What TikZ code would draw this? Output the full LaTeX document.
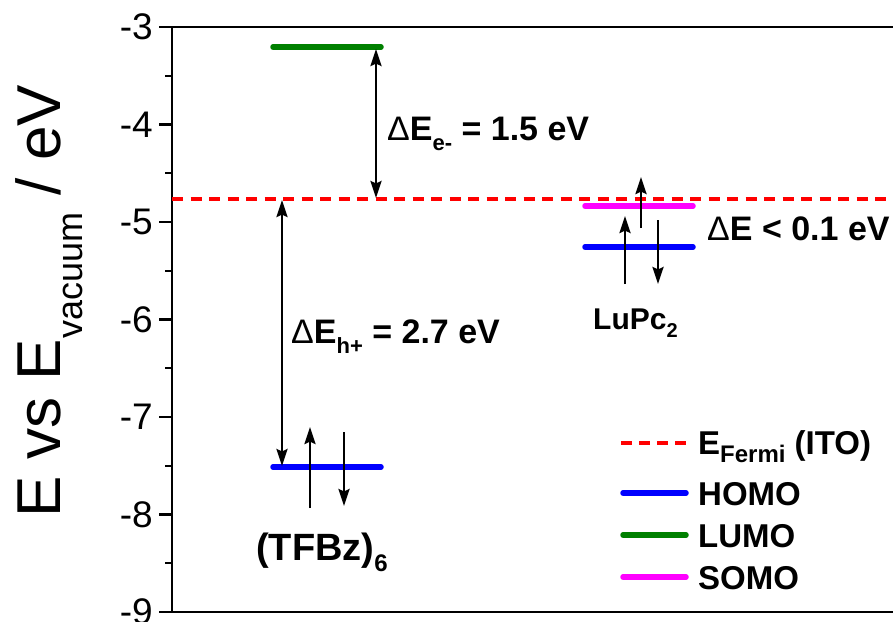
\documentclass[tikz,border=0pt]{standalone}
\usepackage{fontspec}
\setmainfont{Liberation Sans}
\usetikzlibrary{arrows.meta}
\definecolor{lumogreen}{RGB}{0,128,0}
\definecolor{homoblue}{RGB}{0,0,255}
\definecolor{somomag}{RGB}{255,0,255}
\definecolor{fermired}{RGB}{255,0,0}
\newcommand{\lowsub}[3]{\raisebox{-#1}{\fontsize{#2}{#2}\selectfont #3}}
\begin{document}
\begin{tikzpicture}[x=1pt,y=-1pt,
  lvl/.style={line width=5.5pt, line cap=round},
  fermi/.style={line width=4pt, fermired, dash pattern=on 11pt off 7.5pt},
  arr/.style={line width=2.8pt, -{Stealth[length=17pt,width=11pt,inset=2.5pt]}},
  darr/.style={line width=2.8pt, {Stealth[length=17pt,width=11pt,inset=2.5pt]}-{Stealth[length=17pt,width=11pt,inset=2.5pt]}},
  axis/.style={line width=2.5pt, line cap=rect},
  ticklbl/.style={anchor=east, inner sep=0pt, font=\fontsize{37}{37}\selectfont},
  lbl/.style={anchor=base west, inner sep=0pt, font=\bfseries\fontsize{34}{34}\selectfont},
  leg/.style={anchor=base west, inner sep=0pt, font=\bfseries\fontsize{33}{33}\selectfont},
]
\useasboundingbox (0,0) rectangle (893,621);
% axes
\coordinate (tl) at (172,27);
\coordinate (bl) at (172,612);
\coordinate (tr) at (900,27);
\coordinate (br) at (900,612);
\draw[axis] (tr) -- (tl) -- (bl) -- (br);
\foreach \e in {3,...,9}{
  \draw[line width=2.2pt] (159,{27+(\e-3)*97.5}) -- (172,{27+(\e-3)*97.5});
  \node[ticklbl] (t\e) at (153,{27+(\e-3)*97.5}) {-\e};
}
\foreach \e in {3,...,8}{
  \draw[line width=2.2pt] (165,{27+(\e-3)*97.5+48.75}) -- (172,{27+(\e-3)*97.5+48.75});
}
% y label
\node[rotate=90, anchor=base west, inner sep=0pt, font=\fontsize{62}{62}\selectfont] (ylab) at (60,518)
  {E vs E\lowsub{22pt}{36}{vacuum} / eV};
% Fermi level
\coordinate (fl) at (172,199);
\coordinate (fr) at (900,199);
\draw[fermi] (fl) -- (fr);
% TFBz levels
\coordinate (lumoL) at (273,47);
\coordinate (lumoR) at (381,47);
\draw[lvl, lumogreen] (lumoL) -- (lumoR);
\coordinate (homoL) at (273,467);
\coordinate (homoR) at (381,467);
\draw[lvl, homoblue] (homoL) -- (homoR);
% LuPc2 levels
\coordinate (somoL) at (585,206);
\coordinate (somoR) at (693,206);
\draw[lvl, somomag] (somoL) -- (somoR);
\coordinate (homo2L) at (585,247);
\coordinate (homo2R) at (693,247);
\draw[lvl, homoblue] (homo2L) -- (homo2R);
% gap arrows
\coordinate (eTop) at (376,49);
\coordinate (eBot) at (376,198);
\draw[darr] (eTop) -- (eBot);
\coordinate (hTop) at (282,200);
\coordinate (hBot) at (282,466);
\draw[darr] (hTop) -- (hBot);
% spin arrows TFBz
\coordinate (s1a) at (310,508);
\coordinate (s1b) at (310,427);
\draw[arr] (s1a) -- (s1b);
\coordinate (s2a) at (344,432);
\coordinate (s2b) at (344,506);
\draw[arr] (s2a) -- (s2b);
% spin arrows LuPc2
\coordinate (s3a) at (625,284);
\coordinate (s3b) at (625,216);
\draw[arr] (s3a) -- (s3b);
\coordinate (s4a) at (658,220);
\coordinate (s4b) at (658,284);
\draw[arr] (s4a) -- (s4b);
\coordinate (s5a) at (641,228);
\coordinate (s5b) at (641,177);
\draw[arr] (s5a) -- (s5b);
% labels
\node[lbl] (lde) at (387,140) {{\mdseries Δ}E\lowsub{10pt}{22}{e-} = 1.5 eV};
\node[lbl] (ldh) at (291,343) {{\mdseries Δ}E\lowsub{10pt}{22}{h+} = 2.7 eV};
\node[lbl] (ldl) at (707,240) {{\mdseries Δ}E < 0.1 eV};
\node[lbl, font=\bfseries\fontsize{30}{30}\selectfont] (llu) at (593,329) {LuPc\lowsub{8pt}{20}{2}};
\node[lbl, anchor=base, font=\bfseries\fontsize{38}{38}\selectfont] (ltf) at (322,560) {(TFBz)\lowsub{11pt}{24}{6}};
% legend
\coordinate (lg1a) at (621,443);
\coordinate (lg1b) at (688,443);
\draw[line width=4pt, fermired, dash pattern=on 11pt off 7pt] (lg1a) -- (lg1b);
\node[leg] (lgt1) at (698,454) {E\lowsub{8pt}{24}{Fermi} (ITO)};
\coordinate (lg2a) at (623,493);
\coordinate (lg2b) at (686,493);
\draw[lvl, homoblue] (lg2a) -- (lg2b);
\node[leg] (lgt2) at (698,505) {HOMO};
\coordinate (lg3a) at (623,535);
\coordinate (lg3b) at (686,535);
\draw[lvl, lumogreen] (lg3a) -- (lg3b);
\node[leg] (lgt3) at (698,547) {LUMO};
\coordinate (lg4a) at (623,577);
\coordinate (lg4b) at (686,577);
\draw[lvl, somomag] (lg4a) -- (lg4b);
\node[leg] (lgt4) at (698,589) {SOMO};
\end{tikzpicture}
\end{document}
